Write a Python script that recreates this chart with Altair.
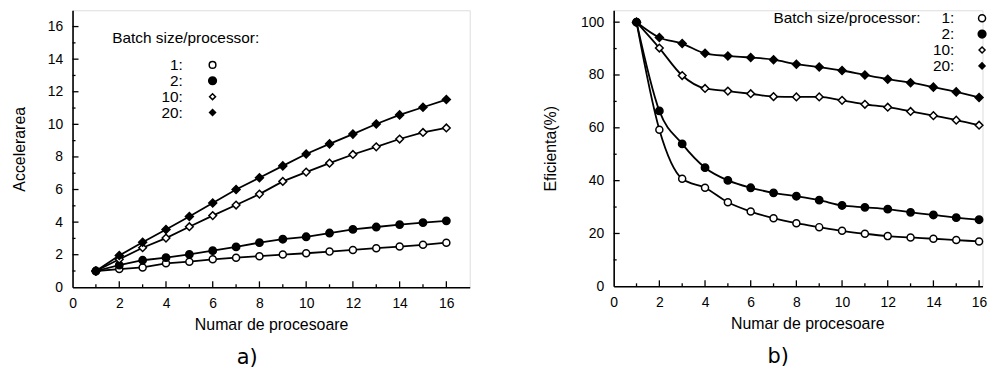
import altair as alt
import pandas as pd

# ---------------- data ----------------
procs = list(range(1, 17))
batch_labels = ["1", "2", "10", "20"]

speedup_b1 = [1.0, 1.12, 1.22, 1.47, 1.57, 1.72, 1.82, 1.91, 2.01, 2.09, 2.19, 2.29, 2.40, 2.50, 2.61, 2.74]
speedup_b2 = [1.0, 1.36, 1.66, 1.82, 2.02, 2.25, 2.48, 2.74, 2.95, 3.10, 3.33, 3.55, 3.70, 3.85, 3.97, 4.08]
speedup_b10 = [1.0, 1.72, 2.43, 3.02, 3.72, 4.40, 5.05, 5.72, 6.50, 7.07, 7.62, 8.15, 8.62, 9.10, 9.50, 9.78]
speedup_b20 = [1.0, 1.95, 2.77, 3.55, 4.35, 5.17, 6.00, 6.72, 7.45, 8.18, 8.80, 9.40, 10.02, 10.58, 11.05, 11.52]

eff_b1 = [100, 59.3, 40.7, 37.3, 31.8, 28.3, 25.8, 23.9, 22.4, 21.0, 19.9, 19.0, 18.5, 18.0, 17.5, 17.0]
eff_b2 = [100, 66.4, 53.9, 44.9, 40.1, 37.3, 35.4, 34.1, 32.6, 30.6, 29.9, 29.2, 28.0, 27.0, 26.0, 25.2]
eff_b10 = [100, 90.2, 79.8, 74.9, 73.9, 72.9, 71.8, 71.7, 71.7, 70.4, 68.9, 67.8, 66.2, 64.6, 62.9, 61.0]
eff_b20 = [100, 94.2, 91.9, 88.2, 87.2, 86.6, 85.8, 84.1, 83.0, 81.7, 80.0, 78.4, 77.1, 75.4, 73.6, 71.5]

x_labels = [0, 2, 4, 6, 8, 10, 12, 14, 16]
y_labels_a = [0, 2, 4, 6, 8, 10, 12, 14, 16]
y_labels_b = [0, 20, 40, 60, 80, 100]

legend_title = "Batch size/processor:"
x_title = "Numar de procesoare"
y_title_a = "Accelerarea"
y_title_b = "Eficienta(%)"


def long_df(series):
    n, v, b = [], [], []
    for lab, vals in zip(batch_labels, series):
        n += procs
        v += vals
        b += [lab] * len(procs)
    return pd.DataFrame({"n": n, "value": v, "batch": b})


df_a = long_df([speedup_b1, speedup_b2, speedup_b10, speedup_b20])
df_b = long_df([eff_b1, eff_b2, eff_b10, eff_b20])

FONT = "Liberation Sans"
shape_scale = alt.Scale(domain=batch_labels, range=["circle", "circle", "diamond", "diamond"])
fill_scale = alt.Scale(domain=batch_labels, range=["white", "black", "white", "black"])
legend_shapes = ["circle", "circle", "diamond", "diamond"]
legend_fills = ["white", "black", "white", "black"]


def panel(df, xdom, ydom, yvals, ytitle, W, H, interp, sizes, leg, x_minor, y_major, y_minor,
          caption, cap_dx, ytitle_pad, xtitle_x=None):
    xs = alt.Scale(domain=xdom, nice=False, zero=False)
    ys = alt.Scale(domain=ydom, nice=False, zero=False)
    xkw = dict(values=x_labels, title=x_title, ticks=False, grid=False,
               domainColor="black", domainWidth=1.6, labelColor="black",
               labelFont=FONT, labelFontSize=14, labelPadding=9, labelOverlap=False,
               titleFont=FONT, titleFontSize=16, titleFontWeight="normal",
               titleColor="black", titlePadding=7, labelFlush=False)
    if xtitle_x is not None:
        xkw["titleX"] = xtitle_x
    xaxis = alt.Axis(**xkw)
    yaxis = alt.Axis(values=yvals, title=ytitle, ticks=False, grid=False,
                     domainColor="black", domainWidth=1.6, labelColor="black",
                     labelFont=FONT, labelFontSize=14, labelPadding=10, labelOverlap=False,
                     titleFont=FONT, titleFontSize=16, titleFontWeight="normal",
                     titleColor="black", titlePadding=ytitle_pad, labelFlush=False)
    base = alt.Chart(df)
    lines = base.mark_line(color="black", strokeWidth=1.8, interpolate=interp).encode(
        x=alt.X("n:Q", scale=xs, axis=xaxis),
        y=alt.Y("value:Q", scale=ys, axis=yaxis),
        detail="batch:N",
    )
    pts = base.mark_point(filled=True, stroke="black", strokeWidth=1.5, opacity=1).encode(
        x=alt.X("n:Q", scale=xs, axis=xaxis),
        y=alt.Y("value:Q", scale=ys, axis=yaxis),
        shape=alt.Shape("batch:N", scale=shape_scale, legend=None),
        fill=alt.Fill("batch:N", scale=fill_scale, legend=None),
        size=alt.Size("batch:N", scale=alt.Scale(domain=batch_labels, range=sizes), legend=None),
    )
    layers = [lines, pts]
    # inward ticks on x axis
    layers.append(alt.Chart(pd.DataFrame({"n": x_labels[1:]})).mark_rule(color="black", strokeWidth=1.3)
                  .encode(x=alt.X("n:Q", scale=xs, axis=xaxis), y=alt.value(H), y2=alt.value(H - 6)))
    layers.append(alt.Chart(pd.DataFrame({"n": x_minor})).mark_rule(color="black", strokeWidth=1.3)
                  .encode(x=alt.X("n:Q", scale=xs, axis=xaxis), y=alt.value(H), y2=alt.value(H - 3)))
    # inward ticks on y axis
    layers.append(alt.Chart(pd.DataFrame({"value": y_major})).mark_rule(color="black", strokeWidth=1.3)
                  .encode(y=alt.Y("value:Q", scale=ys, axis=yaxis), x=alt.value(0), x2=alt.value(6)))
    layers.append(alt.Chart(pd.DataFrame({"value": y_minor})).mark_rule(color="black", strokeWidth=1.3)
                  .encode(y=alt.Y("value:Q", scale=ys, axis=yaxis), x=alt.value(0), x2=alt.value(3)))
    # legend
    hx, hy, lx, sx, ys0, dy, hdr_align, lsizes = leg
    layers.append(alt.Chart(pd.DataFrame({"t": [legend_title]})).mark_text(
        align=hdr_align, baseline="middle", font=FONT, fontSize=15.5, color="black")
        .encode(text="t:N", x=alt.value(hx), y=alt.value(hy)))
    for i, lab in enumerate(batch_labels):
        yy = ys0 + i * dy
        layers.append(alt.Chart(pd.DataFrame({"t": [lab + ":"]})).mark_text(
            align="right", baseline="middle", font=FONT, fontSize=15.5, color="black")
            .encode(text="t:N", x=alt.value(lx), y=alt.value(yy)))
        layers.append(alt.Chart(pd.DataFrame({"t": [lab]})).mark_point(
            shape=legend_shapes[i], filled=True, fill=legend_fills[i], stroke="black",
            strokeWidth=1.5, size=lsizes[i], opacity=1)
            .encode(x=alt.value(sx), y=alt.value(yy)))
    return alt.layer(*layers).properties(
        width=W, height=H,
        title=alt.TitleParams(caption, orient="bottom", font="DejaVu Sans", fontSize=21,
                              fontWeight="normal", color="black", frame="group", dx=cap_dx, offset=14),
    )


chart_a = panel(
    df_a, [0, 17], [0, 17], y_labels_a, y_title_a, 400, 279, "linear",
    [50, 64, 42, 42],
    (40, 28, 111, 141, 55, 16, "left", [45, 60, 36, 36]),
    [1, 3, 5, 7, 9, 11, 13, 15],
    [2, 4, 6, 8, 10, 12, 14, 16],
    [1, 3, 5, 7, 9, 11, 13, 15],
    "a)", -24, 20,
)

chart_b = panel(
    df_b, [0, 16.15], [0, 104.5], y_labels_b, y_title_b, 371.45, 278, "monotone",
    [72, 80, 45, 45],
    (309, 8, 343, 371, 8, 16, "right", [50, 60, 36, 36]),
    [1, 3, 5, 7, 9, 11, 13, 15],
    [20, 40, 60, 80, 100],
    [10, 30, 50, 70, 90],
    "b)", -20, 22, xtitle_x=195,
)

chart = (
    alt.hconcat(chart_a, chart_b, spacing=72,
                padding={"left": 2, "top": 0, "right": 0, "bottom": 0})
    .configure_view(stroke=None)
    .configure_axis(labelOverlap=False)
    .configure(background="white")
)

chart.save("out.html", embed_options={"renderer": "svg", "actions": False})
